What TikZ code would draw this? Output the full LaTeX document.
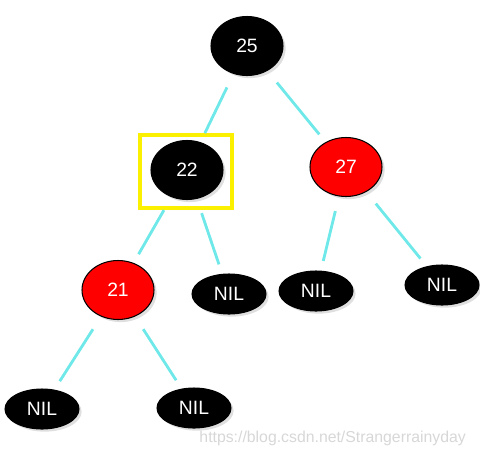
\documentclass[tikz,border=0pt]{standalone}
\usepackage{fontspec}
\setmainfont{Liberation Sans}
\usepackage{tikz}
\usetikzlibrary{shapes.geometric, shadows}
\definecolor{nodered}{RGB}{255,0,0}
\definecolor{edgecyan}{RGB}{110,232,232}
\definecolor{boxyellow}{RGB}{250,240,0}
\definecolor{markgray}{RGB}{215,215,215}
\tikzset{
  blacknode/.style={ellipse, draw=black, fill=black, text=white,
    minimum width=1.44cm, minimum height=1.18cm, inner sep=0pt,
    font=\fontsize{11}{13}\selectfont, line width=0.6pt,
    drop shadow={opacity=0.25, shadow xshift=1.5pt, shadow yshift=-1.5pt}},
  rednode/.style={blacknode, fill=nodered},
  nilnode/.style={blacknode, minimum width=1.48cm, minimum height=0.8cm},
  edge/.style={edgecyan, line width=1.6pt, shorten <=0.3cm, shorten >=0.2cm},
  markbox/.style={rectangle, draw=boxyellow, line width=1.8pt,
    minimum width=1.84cm, minimum height=1.46cm}
}

\begin{document}
\begin{tikzpicture}[x=0.02cm, y=-0.02cm]
  \useasboundingbox (0,0) rectangle (480,454);

  % marker box behind the selected node
  \node[markbox] (box) at (186,171.5) {};

  \node[blacknode] (n25) at (247,46) {25};
  \node[blacknode] (n22) at (187,170) {22};
  \node[rednode] (n27) at (346,167) {27};
  \node[rednode] (n21) at (118,290) {21};
  \node[nilnode] (nil22) at (229,294) {NIL};
  \node[nilnode] (nil27a) at (316,291) {NIL};
  \node[nilnode] (nil27b) at (442,285) {NIL};
  \node[nilnode] (nil21a) at (42,409) {NIL};
  \node[nilnode] (nil21b) at (194,408) {NIL};

  \draw[edge] (n25) -- (n22);
  \draw[edge] (n25) -- (n27);
  \draw[edge] (n22) -- (n21);
  \draw[edge] (n22) -- (nil22);
  \draw[edge] (n27) -- (nil27a);
  \draw[edge] (n27) -- (nil27b);
  \draw[edge] (n21) -- (nil21a);
  \draw[edge] (n21) -- (nil21b);

  % watermark
  \node[text=markgray, font=\fontsize{9}{11}\selectfont, anchor=east] (mark) at (472,438) {https://blog.csdn.net/Strangerrainyday};
\end{tikzpicture}
\end{document}
